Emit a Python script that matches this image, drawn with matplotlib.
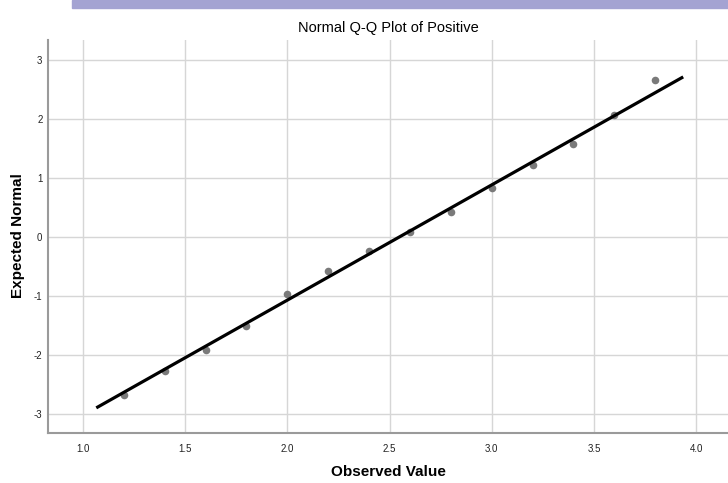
import numpy as np
import matplotlib.pyplot as plt
from matplotlib.patches import Rectangle

plt.rcParams["font.family"] = ["Liberation Sans", "DejaVu Sans"]
plt.rcParams["axes.unicode_minus"] = False

# observed values and their expected normal scores
observed = [1.2, 1.4, 1.6, 1.8, 2.0, 2.2, 2.4, 2.6, 2.8, 3.0, 3.2, 3.4, 3.6, 3.8]
expected = [-2.67, -2.27, -1.92, -1.51, -0.97, -0.57, -0.24, 0.09, 0.43, 0.83, 1.22, 1.58, 2.07, 2.66]

# reference line: y = (x - mean) / sd
line_mean = 2.547
line_sd = 0.512
line_x = [1.072, 3.93]

x_ticks = [1.0, 1.5, 2.0, 2.5, 3.0, 3.5, 4.0]
y_ticks = [-3, -2, -1, 0, 1, 2, 3]

fig = plt.figure(figsize=(7.28, 4.83), dpi=100)
ax = fig.add_axes([48 / 728, 1 - 433 / 483, 1 - 48 / 728, (433 - 40) / 483])

# screenshot band at the top
fig.patches.append(Rectangle((72 / 728, 1 - 8 / 483), 1, 8 / 483,
                             transform=fig.transFigure, color="#a4a3d2",
                             zorder=0))

ax.set_xlim(0.829, 4.156)
ax.set_ylim(-3.32, 3.34)
ax.set_xticks(x_ticks)
ax.set_xticklabels([f"{t:.1f}" for t in x_ticks])
ax.set_yticks(y_ticks)
ax.grid(True, color="#d6d6d6", linewidth=1.0)
ax.set_axisbelow(True)

for side in ["top", "right"]:
    ax.spines[side].set_visible(False)
for side in ["left", "bottom"]:
    ax.spines[side].set_color("#9a9a9a")
    ax.spines[side].set_linewidth(1.5)

ax.tick_params(axis="x", length=0, labelsize=7, labelcolor="#222222", pad=8)
ax.tick_params(axis="y", length=0, labelsize=7, labelcolor="#222222", pad=4)

ax.scatter(observed, expected, s=30, color="#7a7a7a", zorder=3, linewidths=0)
lx = np.array(line_x)
ax.plot(lx, (lx - line_mean) / line_sd, color="black", linewidth=2.3, zorder=4)

ax.set_title("Normal Q-Q Plot of Positive", fontsize=10.5, pad=6)
fig.text(388 / 728, 1 - 472 / 483, "Observed Value", fontsize=11,
         fontweight="bold", ha="center", va="center")
fig.text(18 / 728, 1 - 236 / 483, "Expected Normal", fontsize=11,
         fontweight="bold", ha="center", va="center", rotation=90)

fig.savefig("out.png", dpi=100)
